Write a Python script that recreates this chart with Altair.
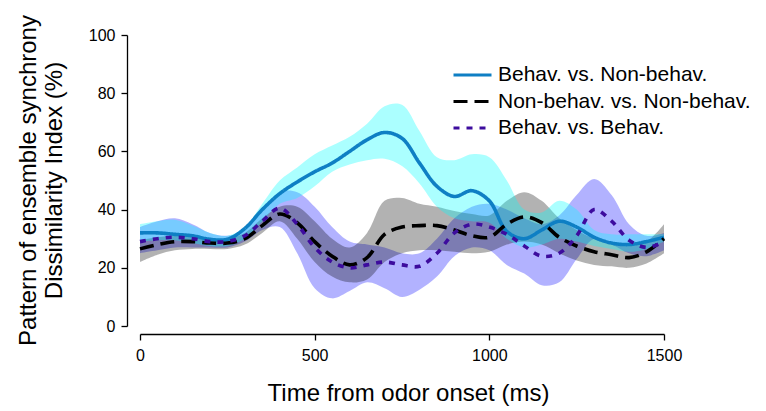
import altair as alt
import pandas as pd

FONT = "Liberation Sans"
INTERP = "catmull-rom"

t = [0, 50, 100, 150, 200, 250, 300, 350, 400, 450, 500, 550, 600, 650, 700, 750,
     800, 850, 900, 950, 1000, 1050, 1100, 1150, 1200, 1250, 1300, 1350, 1400, 1450, 1500]

names = ["Behav. vs. Non-behav.", "Non-behav. vs. Non-behav.", "Behav. vs. Behav."]

# Behav. vs. Non-behav.
bn_mean = [32, 32, 31.5, 31, 29.8, 29.8, 33.5, 40, 45.5, 49.5, 53, 56, 60, 64, 66.5, 64.5,
           56, 48, 44.5, 46.5, 43, 32.5, 30, 33, 36, 34, 30.5, 28.5, 28, 29, 30.5]
bn_hi = [35, 36, 36.5, 34.5, 32, 31, 34, 42, 50, 54.5, 59, 62, 65, 69.5, 75.5, 76,
         67, 58, 57, 59, 58, 50, 40, 39, 43, 40, 33, 31.5, 31.5, 31.5, 31.5]
bn_lo = [29, 29.5, 29.5, 28.5, 27.5, 27.5, 30, 36, 42, 44, 48, 53, 55.5, 57, 57.5, 55,
         49, 41, 37, 36, 35.5, 30, 27, 28, 30, 29, 27.5, 26.5, 25.5, 26.5, 29]

# Non-behav. vs. Non-behav.
nn_mean = [26.5, 28, 29, 29, 28.5, 28.5, 30, 34.5, 38.5, 35.5, 29, 24, 21, 23.5, 31.5, 34,
           34.5, 34.5, 33, 31, 30.5, 35, 37.5, 35.5, 30.5, 27.5, 25.5, 24.5, 23.5, 25.5, 30]
nn_hi = [29.5, 30.5, 31, 30.5, 30, 30, 32, 37, 41, 41, 36, 30, 27, 32, 43, 44,
         42, 41, 39.5, 38.5, 38, 43, 46, 43, 37, 33, 30, 28.5, 27.5, 29, 35]
nn_lo = [22, 24.5, 26, 26.5, 26.5, 26.5, 28, 32, 36, 30, 22, 17, 15, 16, 22, 25,
         26, 26, 25.5, 25, 25.5, 28, 29, 28, 25, 22.5, 21, 20.5, 20, 21.5, 25]

# Behav. vs. Behav.
bb_mean = [29, 30, 30.5, 30, 29, 29, 31, 36, 40.5, 35, 27, 22, 20, 21, 22, 21,
           20.5, 25, 32, 35, 34, 31.5, 27.5, 24, 25, 31, 40, 36, 29.5, 27, 29]
bb_hi = [34, 36, 37, 35, 32, 31, 33, 40, 46, 46, 41, 34, 29, 28, 27, 25,
         25, 30, 37, 41, 42, 40, 37, 35, 38, 45, 50.5, 45, 35, 31, 32]
bb_lo = [25, 26, 27, 27, 27, 27, 29, 33, 34, 25, 13, 9.5, 12, 15, 13, 10,
         12.5, 17, 24, 27, 26, 21, 18, 14, 15, 23, 30, 28, 25, 24, 26]

line_colors = ["#0e7fc4", "#000000", "#3d0c9e"]
line_dashes = [[1, 0], [14, 7], [6, 7]]

rows = []
for name, m in zip(names, [bn_mean, nn_mean, bb_mean]):
    for ti, v in zip(t, m):
        rows.append({"t": ti, "v": v, "s": name})
lines_df = pd.DataFrame(rows)


def band_df(lo, hi):
    return pd.DataFrame({"t": t, "lo": lo, "hi": hi})


xaxis = alt.Axis(values=[0, 500, 1000, 1500], offset=8, title="Time from odor onset (ms)",
                 format="d", titleX=268, titleY=66, titleBaseline="alphabetic",
                 labelFlush=False, labelPadding=7, grid=False)
yaxis = alt.Axis(values=[0, 20, 40, 60, 80, 100], offset=13, format="d",
                 title=["Pattern of ensemble synchrony", "Dissimilarity Index (%)"],
                 titleX=-99, titleY=145, titleBaseline="middle", titleAngle=270,
                 titleAlign="center", titleLineHeight=26, labelPadding=6, grid=False)
xscale = alt.Scale(domain=[0, 1500], nice=False)
yscale = alt.Scale(domain=[0, 100], nice=False)


def band(lo, hi, color, opacity):
    return alt.Chart(band_df(lo, hi)).mark_area(
        interpolate=INTERP, color=color, opacity=opacity
    ).encode(
        x=alt.X("t:Q", scale=xscale, axis=xaxis),
        y=alt.Y("lo:Q", scale=yscale, axis=yaxis),
        y2="hi:Q",
    )


band_bb = band(bb_lo, bb_hi, "#6666ff", 0.5)
band_nn = band(nn_lo, nn_hi, "#000000", 0.3)
band_bn = band(bn_lo, bn_hi, "#00ffff", 0.33)

legend = alt.Legend(title=None, orient="none", legendX=312, legendY=28, symbolType="stroke",
                    symbolSize=1444, symbolStrokeWidth=3, labelFontSize=21, labelFont=FONT,
                    labelColor="#000000", labelOffset=5, labelLimit=500, clipHeight=24,
                    rowPadding=2.5, padding=0)

lines = alt.Chart(lines_df).mark_line(interpolate=INTERP, strokeWidth=3.6).encode(
    x=alt.X("t:Q", scale=xscale, axis=xaxis),
    y=alt.Y("v:Q", scale=yscale, axis=yaxis),
    color=alt.Color("s:N", scale=alt.Scale(domain=names, range=line_colors), legend=legend),
    strokeDash=alt.StrokeDash("s:N", scale=alt.Scale(domain=names, range=line_dashes), legend=legend),
)

chart = alt.layer(band_bb, band_nn, band_bn, lines).properties(
    width=524, height=291,
    autosize=alt.AutoSizeParams(type="none"),
    padding={"left": 140, "top": 35, "right": 102, "bottom": 85},
).configure_view(stroke=None).configure_axis(
    domainColor="#000000", domainWidth=1.3, tickColor="#000000", tickWidth=1.3, tickSize=6,
    labelFont=FONT, labelFontSize=16, labelColor="#000000",
    titleFont=FONT, titleFontSize=24, titleFontWeight="normal", titleColor="#000000",
)

chart.save("out.html", embed_options={"renderer": "svg", "actions": False})
